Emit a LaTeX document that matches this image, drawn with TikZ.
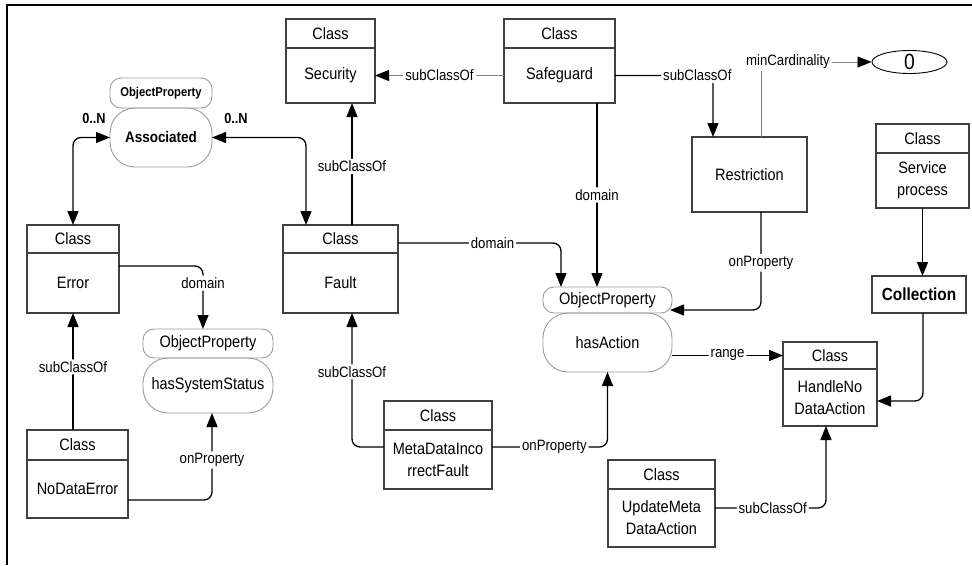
\documentclass[tikz,border=0pt]{standalone}
\usepackage{fontspec}
\setmainfont[FakeStretch=0.88]{Liberation Sans}
\usetikzlibrary{positioning,arrows.meta,shapes.geometric}

\definecolor{boxline}{HTML}{404040}
\definecolor{propline}{HTML}{9A9A9A}
\definecolor{thinline}{HTML}{808080}

\tikzset{
  hdr/.style={draw=boxline, line width=1.1pt, inner sep=0pt, outer sep=0pt,
    minimum height=29pt, font=\fontsize{16.5}{22}\selectfont},
  bodybox/.style={draw=boxline, line width=1.1pt, inner sep=0pt, outer sep=0pt,
    align=center, font=\fontsize{16.5}{22}\selectfont},
  prophdr/.style={draw=propline, line width=0.9pt, rounded corners=11pt,
    inner sep=0pt, outer sep=0pt, font=\fontsize{16.5}{18}\selectfont},
  propbody/.style={draw=propline, line width=0.9pt, rounded corners=25pt,
    inner sep=0pt, outer sep=0pt, font=\fontsize{16.5}{18}\selectfont},
  lbl/.style={fill=white, inner sep=2pt, font=\fontsize{15}{17}\selectfont},
  card/.style={font=\bfseries\fontsize{14.5}{16}\selectfont},
  conn/.style={line width=1.3pt, rounded corners=8pt, ->},
  thinconn/.style={draw=thinline, line width=0.8pt},
}

\begin{document}
\begin{tikzpicture}[x=1pt, y=-1pt,
    >={Triangle[length=14pt, width=11pt, color=black]}]
  \useasboundingbox (0,0) rectangle (972,565);

  % frame
  \draw[line width=2pt] (7,565) -- (7,5) -- (972,5);

  % Classes
  \node[hdr, minimum width=89pt] (secH) at (330.5,33.5) {Class};
  \node[bodybox, below=0pt of secH, minimum width=89pt, minimum height=55pt] (sec) {Security};

  \node[hdr, minimum width=111pt] (safeH) at (559.5,33.5) {Class};
  \node[bodybox, below=0pt of safeH, minimum width=111pt, minimum height=55pt] (safe) {Safeguard};

  \node[hdr, minimum width=92pt, minimum height=28pt] (errH) at (73,239) {Class};
  \node[bodybox, below=0pt of errH, minimum width=92pt, minimum height=60pt] (err) {Error};

  \node[hdr, minimum width=115pt, minimum height=28pt] (faultH) at (340.5,239) {Class};
  \node[bodybox, below=0pt of faultH, minimum width=115pt, minimum height=60pt] (fault) {Fault};

  \node[hdr, minimum width=101pt, minimum height=30pt] (ndeH) at (77.5,445) {Class};
  \node[bodybox, below=0pt of ndeH, minimum width=101pt, minimum height=58pt] (nde) {NoDataError};

  \node[hdr, minimum width=108pt] (mdfH) at (438,415.5) {Class};
  \node[bodybox, below=0pt of mdfH, minimum width=108pt, minimum height=59pt] (mdf) {MetaDataInco\\rrectFault};

  \node[hdr, minimum width=107pt] (umdH) at (661.5,474.5) {Class};
  \node[bodybox, below=0pt of umdH, minimum width=107pt, minimum height=58pt] (umd) {UpdateMeta\\DataAction};

  \node[hdr, minimum width=94pt, minimum height=27pt] (hndH) at (830,355.5) {Class};
  \node[bodybox, below=0pt of hndH, minimum width=94pt, minimum height=57pt] (hnd) {HandleNo\\DataAction};

  \node[hdr, minimum width=93pt] (svcH) at (922.5,138.5) {Class};
  \node[bodybox, below=0pt of svcH, minimum width=93pt, minimum height=55pt] (svc) {Service\\process};

  \node[bodybox, minimum width=94pt, minimum height=37pt,
    font=\bfseries\fontsize{17.5}{20}\selectfont] (coll) at (919,294.5) {Collection};

  \node[bodybox, minimum width=115pt, minimum height=75pt] (restr) at (749.5,174.5) {Restriction};

  \node[draw=black, line width=0.9pt, ellipse, inner sep=0pt, minimum width=75pt,
    minimum height=23pt, font=\fontsize{22}{24}\selectfont] (zero) at (909.5,62) {0};

  % Object properties
  \node[prophdr, minimum width=102pt, minimum height=30pt,
    font=\bfseries\fontsize{12.8}{14}\selectfont] (assocH) at (161,93) {ObjectProperty};
  \node[propbody, below=0pt of assocH, minimum width=102pt, minimum height=59pt,
    font=\bfseries\fontsize{15.3}{17}\selectfont] (assoc) {Associated};

  \node[prophdr, minimum width=130pt, minimum height=29pt] (hssH) at (208,343.5) {ObjectProperty};
  \node[propbody, below=0pt of hssH, minimum width=130pt, minimum height=55pt] (hss) {hasSystemStatus};

  \node[prophdr, minimum width=129pt, minimum height=26pt] (hasH) at (607.5,300) {ObjectProperty};
  \node[propbody, below=0pt of hasH, minimum width=129pt, minimum height=59pt] (has) {hasAction};

  % cardinalities
  \node[card] (cardL) at (94,119) {0..N};
  \node[card] (cardR) at (236,119) {0..N};

  % Connectors
  \draw[conn, <->] (errH.north) |- (assoc.west);
  \draw[conn, <->] (assoc.east) -| ([xshift=23pt]faultH.north west);

  \draw[conn] ([yshift=17pt]err.east) -| node[lbl, pos=0.635] {domain} ([xshift=-5pt]hssH.north);
  \draw[conn] ([yshift=-11pt]nde.east) -| node[lbl, pos=0.73] {onProperty} ([xshift=4pt]hss.south);
  \draw[conn] (ndeH.north -| err.south) -- node[lbl, pos=0.54] {subClassOf} (err.south);

  \draw[conn] ([xshift=11.5pt]faultH.north) -- node[lbl, pos=0.48] {subClassOf}
    ([xshift=11.5pt]faultH.north |- sec.south);
  \draw[thinconn, ->] (safe.west) -- node[lbl] {subClassOf} (sec.east);

  \draw[conn] ([yshift=-4pt]faultH.east) -| node[lbl, pos=0.29] {domain} ([xshift=-46.5pt]hasH.north);
  \draw[conn] ([xshift=37.5pt]safe.south) -- node[lbl, pos=0.5] {domain}
    ([xshift=37.5pt]safe.south |- hasH.north);

  \draw[conn] (safe.east) -| node[lbl, pos=0.42] {subClassOf} ([xshift=-36.5pt]restr.north);

  \node[lbl] (mincard) at (788,62) {minCardinality};
  \draw[thinconn] ([xshift=11.5pt]restr.north) -- ([xshift=11.5pt]restr.north |- mincard.south);
  \draw[thinconn, ->] (mincard.east) -- (zero.west);

  \draw[conn] ([xshift=11.5pt]restr.south) |- node[lbl, pos=0.26] {onProperty}
    ([yshift=-10pt, xshift=-2pt]hasH.east);

  \draw[conn] (hndH.west -| has.east) -- node[lbl] {range} (hndH.west);
  \draw[conn] (svc.south) -- (svc.south |- coll.north);
  \draw[conn] ([xshift=4pt]coll.south) |- ([yshift=-3.5pt]hnd.east);
  \draw[conn] ([yshift=10pt]umd.east) -| node[lbl, pos=0.26] {subClassOf} ([xshift=-4pt]hnd.south);

  \draw[conn] ([yshift=12.5pt]mdf.west) -| node[lbl, pos=0.78] {subClassOf} ([xshift=11.5pt]fault.south);
  \draw[conn] ([yshift=12.5pt]mdf.east) -| node[lbl, pos=0.27] {onProperty} (has.south);
\end{tikzpicture}
\end{document}
